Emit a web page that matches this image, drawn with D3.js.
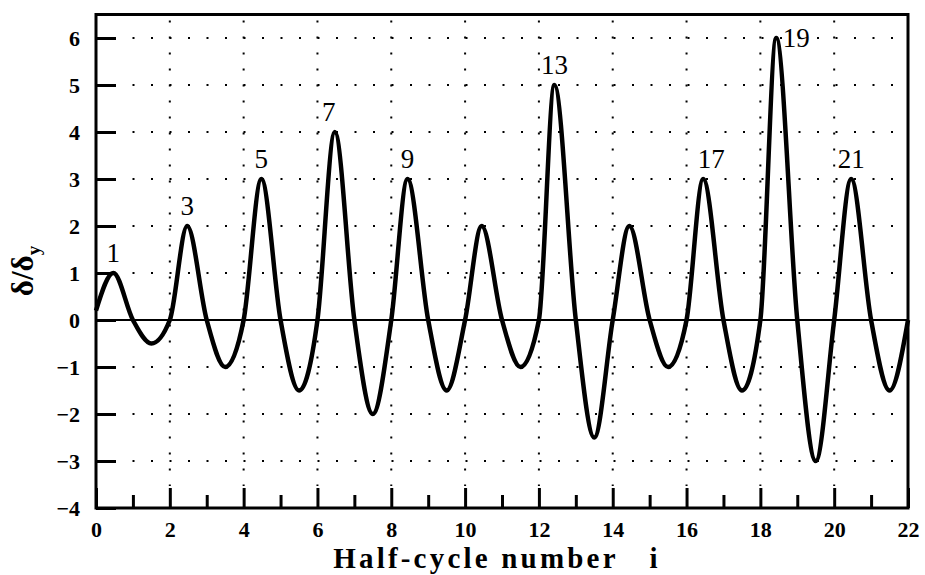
<!DOCTYPE html>
<html><head><meta charset="utf-8">
<script src="https://cdn.jsdelivr.net/npm/d3@7"></script>
<style>body{margin:0;background:#fff}</style>
</head><body><svg id="c" width="925" height="575"></svg>
<script>
// ---- data ----
const zeroCrossings = [0,1,2,3,4,5,6,7,8,9,10,11,12,13,14,15,16,17,18,19,20,21,22];
const crossingValues = [0.2,0,0,0,0,0,0,0,0,0,0,0,0,0,0,0,0,0,0,0,0,0,0];
const extremeX = [0.47,1.5,2.47,3.5,4.48,5.5,6.47,7.5,8.44,9.5,10.45,11.5,12.42,13.5,14.45,15.5,16.45,17.5,18.43,19.5,20.46,21.5];
const extremeY = [1,-0.5,2,-1,3,-1.5,4,-2,3,-1.5,2,-1,5,-2.5,2,-1,3,-1.5,6,-3,3,-1.5];
const peakLabels = ["1","3","5","7","9","13","17","19","21"];
const peakLabelIndex = [0,2,4,6,8,12,16,18,20];
const xMajorTicks = [0,2,4,6,8,10,12,14,16,18,20,22];
const xMinorTicks = [1,3,5,7,9,11,13,15,17,19,21];
const yTicks = [-4,-3,-2,-1,0,1,2,3,4,5,6];
const xGrid = [2,4,6,8,10,12,14,16,18,20];
const yGrid = [-3,-2,-1,1,2,3,4,5,6];

// ---- layout ----
const L = 96, R = 908, T = 14.5, B = 508;
const svg = d3.select("#c");
const x = d3.scaleLinear([0,22],[L,R]);
const y = d3.scaleLinear([-4,6.5],[B,T]);
const serif = "'Liberation Serif','Times New Roman',serif";

// gridlines
svg.append("g").selectAll("line").data(yGrid).join("line")
  .attr("x1", L+18).attr("x2", R).attr("y1", d=>y(d)).attr("y2", d=>y(d))
  .attr("stroke","#000").attr("stroke-width",2).attr("stroke-dasharray","2,16.5");
svg.append("g").selectAll("line").data(xGrid).join("line")
  .attr("x1", d=>x(d)).attr("x2", d=>x(d)).attr("y1", T+6).attr("y2", B-22)
  .attr("stroke","#000").attr("stroke-width",2).attr("stroke-dasharray","2,14");

// zero line
svg.append("line").attr("x1",L).attr("x2",R).attr("y1",y(0)).attr("y2",y(0))
  .attr("stroke","#000").attr("stroke-width",2);

// axes
const yAxis = svg.append("g").attr("transform",`translate(${L},0)`)
  .call(d3.axisLeft(y).tickValues(yTicks).tickSize(-20).tickPadding(16));
const xAxis = svg.append("g").attr("transform",`translate(0,${B})`)
  .call(d3.axisBottom(x).tickValues(xMajorTicks).tickSize(-20).tickPadding(22));
const xAxisMinor = svg.append("g").attr("transform",`translate(0,${B})`)
  .call(d3.axisBottom(x).tickValues(xMinorTicks).tickSize(-13).tickFormat(""));
[yAxis,xAxis,xAxisMinor].forEach(g=>{
  g.select(".domain").remove();
  g.selectAll(".tick line").attr("stroke","#000").attr("stroke-width",3);
  g.selectAll(".tick text").attr("font-family",serif).attr("font-weight","bold")
    .attr("font-size",22).attr("fill","#000");
});
xAxis.selectAll(".tick text").attr("dy","0.32em");

// frame
svg.append("rect").attr("x",L).attr("y",T).attr("width",R-L).attr("height",B-T)
  .attr("fill","none").attr("stroke","#000").attr("stroke-width",3);

// curve
const pts = [];
for (let k=0;k<zeroCrossings.length;k++){
  pts.push([zeroCrossings[k], crossingValues[k]]);
  if (k<extremeX.length) pts.push([extremeX[k], extremeY[k]]);
}
svg.append("path").datum(pts)
  .attr("d", d3.line().x(d=>x(d[0])).y(d=>y(d[1])).curve(d3.curveMonotoneX))
  .attr("fill","none").attr("stroke","#000").attr("stroke-width",4.5)
  .attr("stroke-linejoin","round");

// peak labels
svg.append("g").selectAll("text").data(peakLabels).join("text")
  .attr("x",(d,i)=>{const k=peakLabelIndex[i]; return x(extremeX[k]) + (d==="19"?20:d==="7"?-6:d==="17"?8:0);})
  .attr("y",(d,i)=>{const k=peakLabelIndex[i]; return y(extremeY[k]) + (d==="19"?9:-11);})
  .attr("text-anchor","middle").attr("font-family",serif).attr("font-size",27)
  .attr("fill","#000").text(d=>d);

// axis titles
svg.append("text").attr("x",497).attr("y",568).attr("text-anchor","middle")
  .attr("font-family",serif).attr("font-weight","bold").attr("font-size",29)
  .attr("letter-spacing",3.2).attr("xml:space","preserve")
  .text("Half-cycle number   i");
const yl = svg.append("text").attr("transform","translate(33,271) rotate(-90)")
  .attr("text-anchor","middle").attr("font-family",serif).attr("font-weight","bold")
  .attr("font-size",31);
yl.append("tspan").text("δ/δ");
yl.append("tspan").attr("font-size",19).attr("dy",7).text("y");
</script></body></html>
